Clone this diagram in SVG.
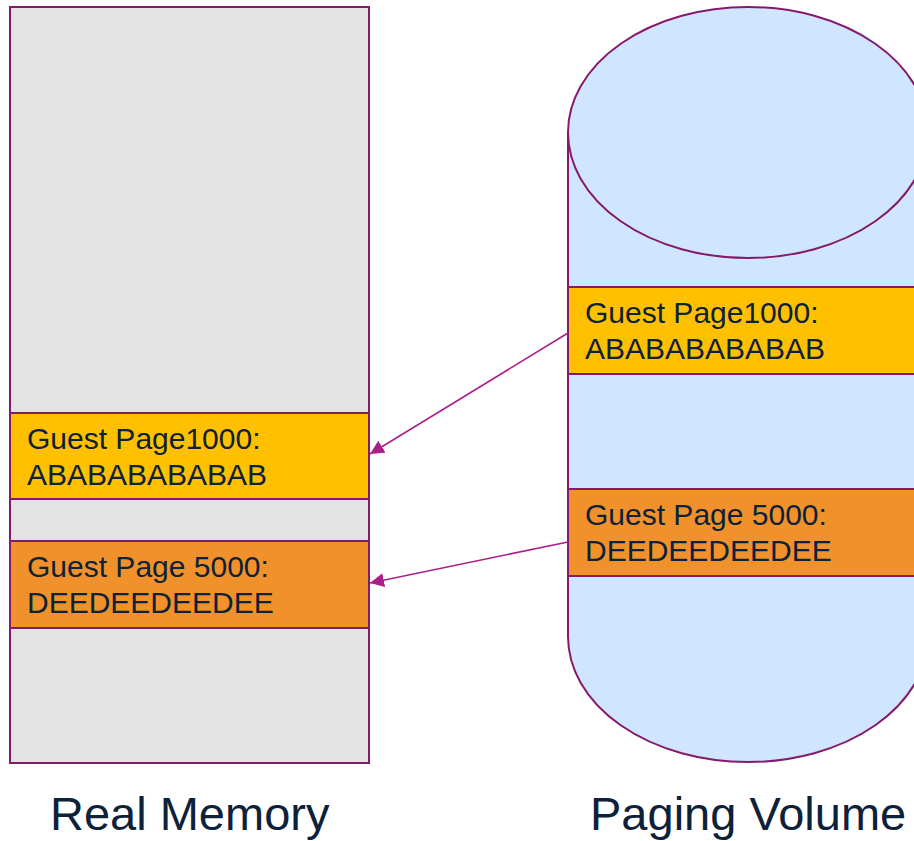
<svg xmlns="http://www.w3.org/2000/svg" width="914" height="841" viewBox="0 0 914 841">
  <style>
    .frame { stroke: #851a6c; stroke-width: 2; }
    .mem { fill: #e3e3e3; }
    .disk { fill: #d0e5fe; }
    .pg1000 { fill: #ffc000; }
    .pg5000 { fill: #f0912b; }
    .lbl { font-family: "Liberation Sans", Arial, sans-serif; font-size: 30px; fill: #0d2139; }
    .title { font-family: "Liberation Sans", Arial, sans-serif; font-size: 47px; fill: #0d2139; }
    .link { stroke: #ad1f88; stroke-width: 1.6; fill: none; marker-end: url(#arrow); }
  </style>
  <defs>
    <marker id="arrow" markerUnits="userSpaceOnUse" markerWidth="15" markerHeight="15" viewBox="0 0 15 15" refX="14" refY="7.5" orient="auto">
      <path d="M0,0.5 L14,7.5 L0,14.5 Z" fill="#ad1f88"/>
    </marker>
  </defs>

  <rect width="914" height="841" fill="#ffffff"/>

  <!-- Real memory column -->
  <g id="real-memory">
    <rect class="mem frame" x="10" y="7" width="359" height="756"/>
    <text class="title" x="50" y="830">Real Memory</text>
  </g>

  <g id="mem-page1000">
    <rect class="pg1000 frame" x="10" y="413" width="359" height="86"/>
    <text class="lbl" x="27" y="449">Guest Page1000:</text>
    <text class="lbl" x="27" y="485">ABABABABABAB</text>
  </g>

  <g id="mem-page5000">
    <rect class="pg5000 frame" x="10" y="541" width="359" height="87"/>
    <text class="lbl" x="27" y="577">Guest Page 5000:</text>
    <text class="lbl" x="27" y="613">DEEDEEDEEDEE</text>
  </g>

  <!-- Paging volume cylinder -->
  <g id="paging-volume">
    <path class="disk frame" d="M568,132.5 L568,636.5 A180,125.5 0 0 0 928,636.5 L928,132.5 Z"/>
    <ellipse class="disk frame" cx="748" cy="132.5" rx="180" ry="125.5"/>
    <text class="title" x="590" y="830">Paging Volume</text>
  </g>

  <g id="disk-page1000">
    <rect class="pg1000 frame" x="568" y="287" width="362" height="87"/>
    <text class="lbl" x="585" y="323">Guest Page1000:</text>
    <text class="lbl" x="585" y="359">ABABABABABAB</text>
  </g>

  <g id="disk-page5000">
    <rect class="pg5000 frame" x="568" y="489" width="362" height="87"/>
    <text class="lbl" x="585" y="525">Guest Page 5000:</text>
    <text class="lbl" x="585" y="561">DEEDEEDEEDEE</text>
  </g>

  <!-- Page-in connectors -->
  <g id="connectors">
    <line class="link" x1="568" y1="333" x2="370" y2="454"/>
    <line class="link" x1="568" y1="542" x2="370" y2="583"/>
  </g>
</svg>
